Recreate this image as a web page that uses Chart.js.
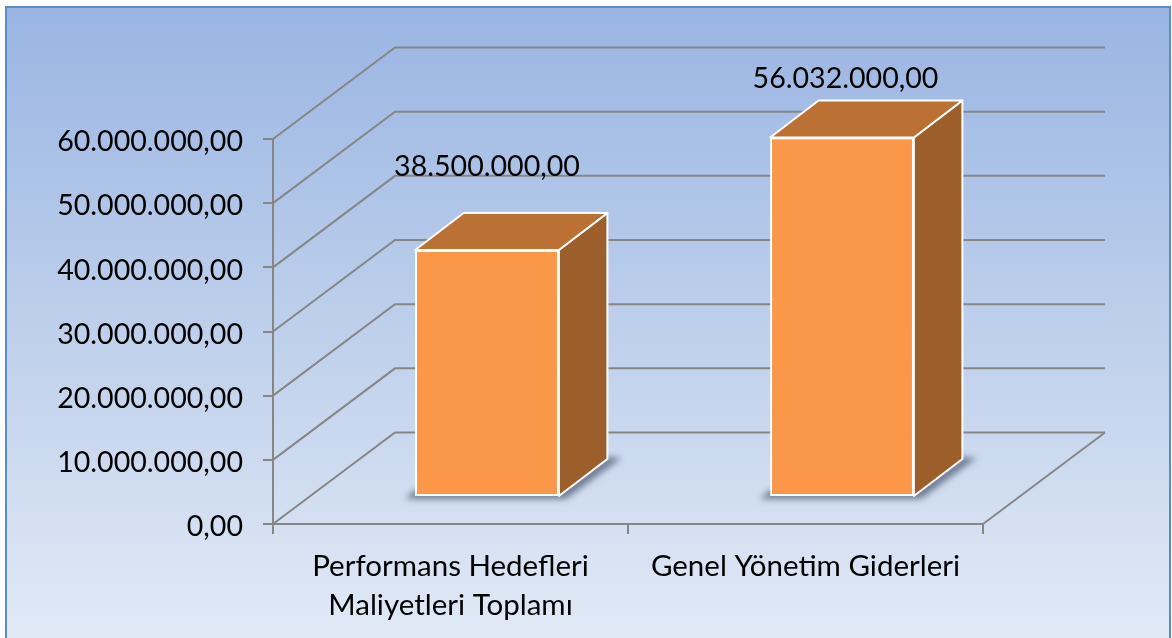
<!DOCTYPE html>
<html>
<head>
<meta charset="utf-8">
<script src="https://cdn.jsdelivr.net/npm/chart.js@4"></script>
<style>
html, body { margin: 0; padding: 0; background: #fff; overflow: hidden; }
#wrap { width: 1172px; height: 638px; }
canvas { display: block; }
</style>
</head>
<body>
<div id="wrap"><canvas id="chart" width="1172" height="638"></canvas></div>
<script>
const categories = [['Performans Hedefleri', 'Maliyetleri Toplamı'], 'Genel Yönetim Giderleri'];
const values = [38500000, 56032000];
const valueLabels = ['38.500.000,00', '56.032.000,00'];
const tickLabels = ['0,00', '10.000.000,00', '20.000.000,00', '30.000.000,00', '40.000.000,00', '50.000.000,00', '60.000.000,00'];

const FONT = 'Lato, Carlito, sans-serif';
const GRID = '#868686';
// 3d look: depth of the whole floor, and of one bar
const wall = { dx: 122, dy: -91.5 };
const bar = { shiftX: 36.5, shiftY: -27, dx: 48.5, dy: -37 };
const labelLift = [83, 59];
const labelShift = [0, 3.5];

const backdrop = {
    id: 'backdrop',
    beforeDraw(chart) {
        const c = chart.ctx;
        const g = c.createLinearGradient(0, 7, 0, 638);
        g.addColorStop(0, '#9ab5e3');
        g.addColorStop(0.5, '#bdcfeb');
        g.addColorStop(1, '#e1e9f6');
        c.save();
        c.fillStyle = '#fff';
        c.fillRect(0, 0, 1172, 638);
        c.fillStyle = g;
        c.fillRect(6, 7, 1164, 640);
        c.strokeStyle = '#5b8cc8';
        c.lineWidth = 2;
        c.strokeRect(6, 7, 1164, 640);
        c.restore();
    }
};

const walls = {
    id: 'walls',
    beforeDatasetsDraw(chart) {
        const c = chart.ctx;
        const y = chart.scales.y;
        const a = chart.chartArea;
        c.save();
        c.strokeStyle = GRID;
        c.lineWidth = 2;
        y.ticks.forEach(t => {
            const py = y.getPixelForValue(t.value);
            c.beginPath();
            c.moveTo(a.left, py);
            c.lineTo(a.left + wall.dx, py + wall.dy);
            c.lineTo(a.right + wall.dx, py + wall.dy);
            c.stroke();
        });
        // floor, right edge
        c.beginPath();
        c.moveTo(a.right, a.bottom);
        c.lineTo(a.right + wall.dx, a.bottom + wall.dy);
        c.stroke();
        c.restore();
    },
    afterDraw(chart) {
        // y labels sit a little under their tick, like the original
        const c = chart.ctx;
        const y = chart.scales.y;
        c.save();
        c.font = '28.6px ' + FONT;
        c.fillStyle = '#000';
        c.textAlign = 'right';
        c.textBaseline = 'middle';
        y.ticks.forEach((t, i) => {
            c.fillText(tickLabels[i], 243, y.getPixelForValue(t.value) + 3);
        });
        c.restore();
    }
};

const bars3d = {
    id: 'bars3d',
    beforeDatasetDraw(chart) {
        const c = chart.ctx;
        chart.getDatasetMeta(0).data.forEach(el => {
            const l = el.x - el.width / 2 + bar.shiftX;
            const r = el.x + el.width / 2 + bar.shiftX;
            const t = el.y + bar.shiftY;
            const b = el.base + bar.shiftY;
            // shadow on the floor
            c.save();
            c.filter = 'blur(3px)';
            c.fillStyle = 'rgba(70,82,105,0.7)';
            c.beginPath();
            c.moveTo(l - 10, b + 3);
            c.lineTo(l, b - 6);
            c.lineTo(r, b - 6);
            c.lineTo(r + bar.dx, b + bar.dy - 2);
            c.lineTo(r + bar.dx + 14, b + bar.dy - 1);
            c.lineTo(r + 7, b + 3);
            c.closePath();
            c.fill();
            c.restore();
            // side and top faces
            c.save();
            c.strokeStyle = '#fff';
            c.lineWidth = 2;
            c.lineJoin = 'round';
            c.fillStyle = '#9c5e2b';
            c.beginPath();
            c.moveTo(r, t);
            c.lineTo(r + bar.dx, t + bar.dy);
            c.lineTo(r + bar.dx, b + bar.dy);
            c.lineTo(r, b);
            c.closePath();
            c.fill();
            c.stroke();
            c.fillStyle = '#bc7134';
            c.beginPath();
            c.moveTo(l, t);
            c.lineTo(l + bar.dx, t + bar.dy);
            c.lineTo(r + bar.dx, t + bar.dy);
            c.lineTo(r, t);
            c.closePath();
            c.fill();
            c.stroke();
            c.restore();
        });
        c.save();
        c.translate(bar.shiftX, bar.shiftY);
    },
    afterDatasetDraw(chart) {
        chart.ctx.restore();
    },
    afterDatasetsDraw(chart) {
        const c = chart.ctx;
        c.save();
        c.font = '28.6px ' + FONT;
        c.fillStyle = '#000';
        c.textAlign = 'center';
        c.textBaseline = 'middle';
        chart.getDatasetMeta(0).data.forEach((el, i) => {
            c.fillText(valueLabels[i], el.x + bar.shiftX + labelShift[i], el.y + bar.shiftY - labelLift[i]);
        });
        c.restore();
    }
};

const ctx = document.getElementById('chart').getContext('2d');
ctx.letterSpacing = '0.1px'; // also stops the "ti" ligature

new Chart(ctx, {
    type: 'bar',
    data: {
        labels: categories,
        datasets: [{
            data: values,
            backgroundColor: '#fb9749',
            borderColor: '#fff',
            borderWidth: 2,
            borderSkipped: false,
            barPercentage: 0.405,
            categoryPercentage: 1,
            clip: false
        }]
    },
    plugins: [backdrop, walls, bars3d],
    options: {
        responsive: false,
        animation: false,
        layout: { padding: { top: 139, right: 189, left: 0, bottom: 0 } },
        plugins: { legend: { display: false }, tooltip: { enabled: false } },
        scales: {
            x: {
                afterFit(s) { s.height = 114; },
                border: { color: GRID, width: 2 },
                grid: { drawOnChartArea: false, color: GRID, lineWidth: 2, tickLength: 10, offset: true },
                ticks: {
                    autoSkip: false,
                    maxRotation: 0,
                    color: '#000',
                    padding: 13,
                    font: { family: FONT, size: 29.5, lineHeight: 1.32 }
                }
            },
            y: {
                min: 0,
                max: 60000000,
                afterFit(s) { s.width = 273; },
                border: { color: GRID, width: 2 },
                grid: { drawOnChartArea: false, color: GRID, lineWidth: 2, tickLength: 10 },
                ticks: { stepSize: 10000000, display: false }
            }
        }
    }
});
</script>
</body>
</html>
